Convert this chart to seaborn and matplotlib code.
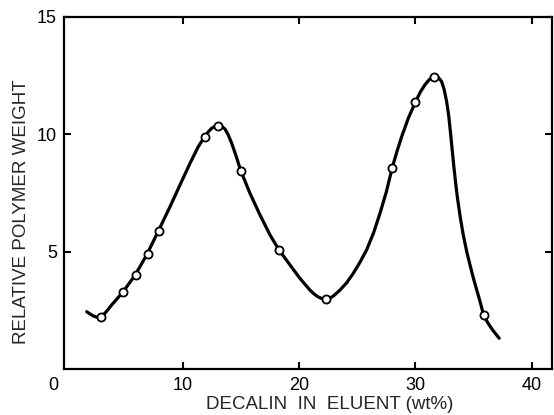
import matplotlib
matplotlib.use("Agg")
import matplotlib.pyplot as plt
import matplotlib.transforms as mtransforms
import seaborn as sns

# Smooth curve traced through the fractions
curve_x = [1.75, 2.05, 2.32, 2.65, 2.96, 3.40, 3.90, 4.85, 5.90, 6.93, 7.91,
           8.91, 9.77, 10.63, 11.34, 11.89, 12.20, 12.49, 12.75, 12.97, 13.30,
           13.63, 13.90, 14.21, 14.60, 14.98, 15.78, 16.64, 17.50, 18.27, 19.22,
           20.07, 20.93, 21.30, 21.60, 21.95, 22.31, 22.70, 23.00, 23.51, 24.10,
           24.65, 25.20, 25.80, 26.40, 26.95, 27.50, 28.00, 28.40, 28.81, 29.40,
           30.01, 30.40, 30.81, 31.20, 31.61, 31.95, 32.24, 32.45, 32.67, 32.85,
           33.00, 33.15, 33.30, 33.45, 33.60, 33.85, 34.10, 34.40, 34.70, 35.00,
           35.30, 35.60, 35.85, 36.20, 36.50, 36.85, 37.19]
curve_y = [2.44, 2.34, 2.26, 2.20, 2.20, 2.42, 2.73, 3.27, 3.99, 4.88, 5.88,
           6.91, 7.84, 8.76, 9.47, 9.89, 10.10, 10.25, 10.33, 10.36, 10.35,
           10.22, 9.98, 9.61, 9.05, 8.45, 7.48, 6.56, 5.71, 5.07, 4.43,
           3.86, 3.36, 3.19, 3.08, 3.00, 2.97, 3.03, 3.13, 3.36, 3.68,
           4.07, 4.52, 5.07, 5.80, 6.63, 7.55, 8.57, 9.25, 9.89, 10.70,
           11.38, 11.78, 12.10, 12.33, 12.45, 12.42, 12.24, 11.92, 11.40, 10.80,
           10.10, 9.35, 8.60, 7.92, 7.30, 6.45, 5.72, 5.00, 4.40, 3.82,
           3.30, 2.78, 2.29, 1.98, 1.75, 1.52, 1.31]

# Measured fractions
pts_x = [3.0, 4.9, 5.95, 7.0, 7.95, 11.9, 13.0, 15.0, 18.3, 22.3, 28.0, 30.0, 31.6, 35.85]
pts_y = [2.22, 3.28, 4.0, 4.9, 5.88, 9.89, 10.35, 8.44, 5.08, 2.98, 8.56, 11.37, 12.45, 2.31]

x_ticks = [0, 10, 20, 30, 40]
y_ticks = [5, 10, 15]

sns.set_theme(style="ticks")
plt.rcParams["font.family"] = ["Liberation Sans", "DejaVu Sans"]

fig = plt.figure(figsize=(5.54, 4.15), dpi=100)
ax = fig.add_axes([0.1155, 0.1108, 0.8803, 0.849])

sns.lineplot(x=curve_x, y=curve_y, sort=False, estimator=None, ax=ax,
             color="black", linewidth=2.3, solid_capstyle="round",
             solid_joinstyle="round")
sns.scatterplot(x=pts_x, y=pts_y, ax=ax, s=34, color="white",
                edgecolor="black", linewidth=1.3, zorder=5)

ax.set_xlim(-0.2, 41.7)
ax.set_ylim(0, 15)
ax.set_xticks(x_ticks)
ax.set_yticks(y_ticks)
ax.set_xticklabels([str(t) for t in x_ticks])
ax.set_yticklabels([str(t) for t in y_ticks])

for side in ["left", "right", "top", "bottom"]:
    ax.spines[side].set_visible(True)
    ax.spines[side].set_linewidth(1.6)
    ax.spines[side].set_color("black")

ax.tick_params(direction="in", length=5, width=1.5, top=True, right=True,
               labelsize=13, colors="black", pad=5)
ax.tick_params(axis="x", pad=6)

# The origin carries only its label, no tick marks
t0 = ax.xaxis.get_major_ticks()[0]
t0.tick1line.set_visible(False)
t0.tick2line.set_visible(False)

# "0" sits at the corner, a little left of the axis origin
lbl0 = ax.get_xticklabels()[0]
lbl0.set_transform(lbl0.get_transform() +
                   mtransforms.ScaledTranslation(-13 / 100, 0, fig.dpi_scale_trans))

ax.set_xlabel("DECALIN  IN  ELUENT (wt%)", fontsize=13.5)
ax.set_ylabel("RELATIVE POLYMER WEIGHT", fontsize=13.5)
ax.xaxis.label.set(va="center", ha="center")
ax.yaxis.label.set(va="center", ha="center")
ax.xaxis.set_label_coords(0.545, -0.102)
ax.yaxis.set_label_coords(-0.088, 0.446)

fig.savefig("out.png", dpi=100, facecolor="white")
